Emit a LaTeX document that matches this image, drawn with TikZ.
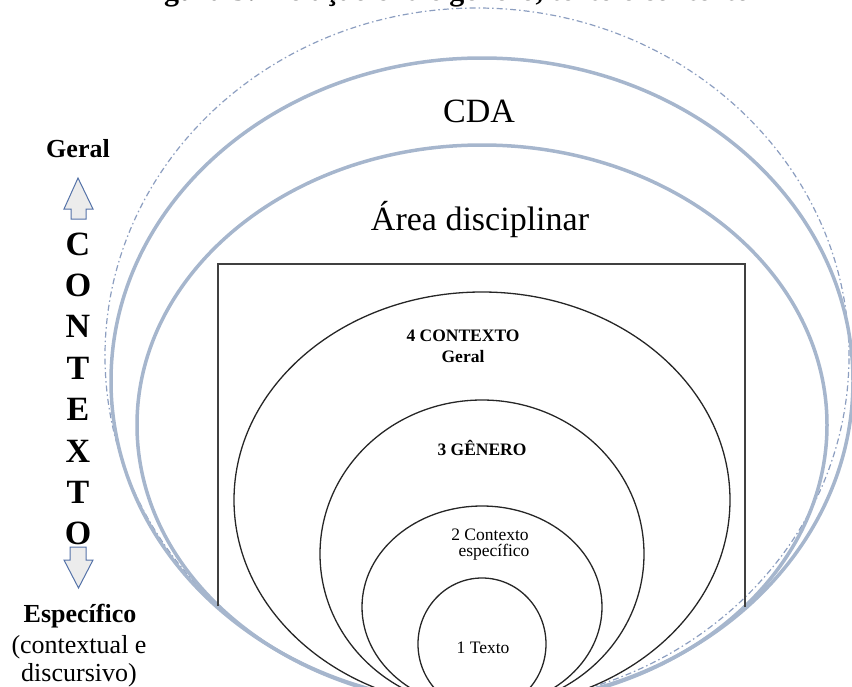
\documentclass[tikz,border=0pt]{standalone}
\usepackage{fontspec}
\setmainfont{Liberation Serif}
\begin{document}
\definecolor{ringblue}{RGB}{166,182,205}
\definecolor{haloblue}{RGB}{140,158,192}
\definecolor{arrowedge}{RGB}{84,114,168}
\definecolor{arrowfill}{RGB}{236,236,236}
\begin{tikzpicture}[x=1pt,y=-1pt,
  ring/.style={draw=ringblue, line width=3.5pt},
  halo/.style={draw=haloblue, line width=1.2pt,
    dash pattern=on 6pt off 3pt on 1.5pt off 3pt},
  layer/.style={draw=black!85, line width=1.3pt},
  frame/.style={draw=black!75, line width=1.5pt},
  blockarrow/.style={draw=arrowedge, fill=arrowfill, line width=1pt, line join=miter},
  txt/.style={inner sep=0pt, anchor=base},
  big/.style={txt, font=\fontsize{34}{40}\selectfont},
  side/.style={txt, font=\fontsize{26}{30}\selectfont},
  sidebold/.style={txt, font=\bfseries\fontsize{26}{30}\selectfont},
  letter/.style={txt, font=\bfseries\fontsize{34}{40}\selectfont},
  inner/.style={txt, font=\fontsize{17.5}{20}\selectfont},
  innerbold/.style={txt, font=\bfseries\fontsize{17.5}{20}\selectfont}
]
\useasboundingbox (0,0) rectangle (852,686);

% caption line, almost entirely above the page edge
\node[txt, font=\bfseries\fontsize{30}{36}\selectfont] (caption) at (444,0.6)
  {Figura 3: Relação entre gênero, texto e contexto};

% outer rings, all touching at the bottom
\draw[halo] (477,356) ellipse [x radius=372pt, y radius=348pt];
\draw[ring] (482,381) ellipse [x radius=371pt, y radius=323pt];
\draw[ring] (482,425) ellipse [x radius=345pt, y radius=280pt];

% open frame around the nested layers
\draw[frame] (218,606) -- (218,264) -- (745,264) -- (745,607);

% nested layers
\draw[layer] (482,500) ellipse [x radius=248pt, y radius=208pt];
\draw[layer] (482,554) ellipse [x radius=162pt, y radius=154pt];
\draw[layer] (482,607) ellipse [x radius=120pt, y radius=101pt];
\draw[layer] (482,644) ellipse [x radius=64pt, y radius=66pt];

% ring labels
\node[big] (cda) at (479,122) {CDA};
\node[big] (area) at (480,230) {Área disciplinar};

% layer labels
\node[innerbold] (ctx4) at (463,341) {4 CONTEXTO};
\node[innerbold] (ctx4b) at (463,362) {Geral};
\node[innerbold] (gen3) at (482,455) {3 GÊNERO};
\node[inner] (ctx2) at (490,540) {2 Contexto};
\node[inner] (ctx2b) at (494,556) {específico};
\node[inner] (txt1) at (483,653) {1 Texto};

% scale on the left
\node[sidebold] (geral) at (78,157) {Geral};
\draw[blockarrow] (78,178) -- (93,209) -- (86,209) -- (86,219) -- (71,219)
  -- (71,209) -- (64,209) -- cycle;
\foreach \ch [count=\i from 0] in {C,O,N,T,E,X,T,O}
  \node[letter] (ctx\i) at (78,{255+41.4*\i}) {\ch};
\draw[blockarrow] (70,547) -- (86,547) -- (86,560) -- (93,560) -- (78.5,588)
  -- (64,560) -- (70,560) -- cycle;
\node[sidebold] (espec) at (80,622) {Específico};
\node[side] (contx) at (79,653) {(contextual e};
\node[side] (disc) at (79,681) {discursivo)};
\end{tikzpicture}
\end{document}
